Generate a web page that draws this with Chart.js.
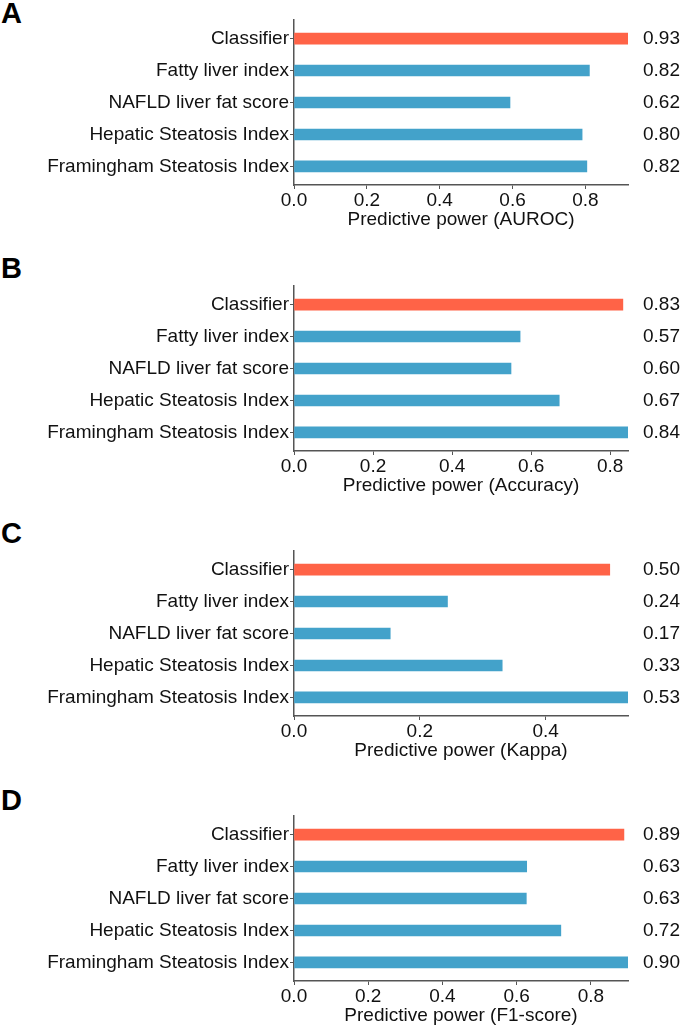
<!DOCTYPE html>
<html>
<head>
<meta charset="utf-8">
<script src="https://cdn.jsdelivr.net/npm/chart.js@4.4.1/dist/chart.umd.min.js"></script>
<style>
  body { margin: 0; width: 685px; height: 1027px; overflow: hidden; background: #fff; position: relative;
         font-family: "Liberation Sans", Arial, sans-serif; }
  .panel { position: absolute; left: 0; width: 685px; height: 232px; }
  .letter { position: absolute; left: 1px; font-weight: bold; font-size: 29px; line-height: 1; color: #000; }
</style>
</head>
<body>
<script>
// Shared categories (top to bottom)
const categories = ['Classifier', 'Fatty liver index', 'NAFLD liver fat score', 'Hepatic Steatosis Index', 'Framingham Steatosis Index'];
const panelLetters = ['A', 'B', 'C', 'D'];
const axisTitles = ['Predictive power (AUROC)', 'Predictive power (Accuracy)', 'Predictive power (Kappa)', 'Predictive power (F1-score)'];
const xTickValues = [0, 0.2, 0.4, 0.6, 0.8];

// Bar lengths
const aurocValues = [0.917, 0.811, 0.593, 0.791, 0.804];
const accuracyValues = [0.832, 0.572, 0.549, 0.671, 0.845];
const kappaValues = [0.502, 0.244, 0.153, 0.331, 0.531];
const f1Values = [0.889, 0.627, 0.626, 0.719, 0.900];

// Numbers printed at the right of each panel
const aurocLabels = ['0.93', '0.82', '0.62', '0.80', '0.82'];
const accuracyLabels = ['0.83', '0.57', '0.60', '0.67', '0.84'];
const kappaLabels = ['0.50', '0.24', '0.17', '0.33', '0.53'];
const f1Labels = ['0.89', '0.63', '0.63', '0.72', '0.90'];

const panelValues = [aurocValues, accuracyValues, kappaValues, f1Values];
const panelLabels = [aurocLabels, accuracyLabels, kappaLabels, f1Labels];
const panelTops = [0, 266, 531, 796];
const letterTops = [-1, 254, 519, 786];

const highlightColor = '#ff6347';
const barColor = '#43a2ca';
const axisColor = '#555555';

Chart.defaults.font.family = '"Liberation Sans", Arial, sans-serif';
Chart.defaults.font.size = 19;
Chart.defaults.color = '#111';

// Draws the printed number at the right end of each row
const valueLabelPlugin = {
  id: 'valueLabels',
  afterDraw(chart, args, opts) {
    const { ctx } = chart;
    const yScale = chart.scales.y;
    ctx.save();
    ctx.font = '19px "Liberation Sans", Arial, sans-serif';
    ctx.fillStyle = '#111';
    ctx.textAlign = 'left';
    ctx.textBaseline = 'middle';
    opts.labels.forEach((text, i) => {
      ctx.fillText(text, 643, yScale.getPixelForValue(i));
    });
    ctx.restore();
  },
};

panelValues.forEach((values, p) => {
  const letter = document.createElement('div');
  letter.className = 'letter';
  letter.style.top = letterTops[p] + 'px';
  letter.textContent = panelLetters[p];
  document.body.appendChild(letter);

  const wrap = document.createElement('div');
  wrap.className = 'panel';
  wrap.style.top = panelTops[p] + 'px';
  const canvas = document.createElement('canvas');
  wrap.appendChild(canvas);
  document.body.appendChild(wrap);

  const xMax = Math.max(...values);

  new Chart(canvas, {
    type: 'bar',
    data: {
      datasets: [{
        data: values.map((v, i) => ({ x: v, y: i })),
        backgroundColor: values.map((v, i) => (i === 0 ? highlightColor : barColor)),
        borderWidth: 0,
        barThickness: 11,
      }],
    },
    options: {
      indexAxis: 'y',
      responsive: true,
      maintainAspectRatio: false,
      animation: false,
      layout: { padding: { left: 0, right: 57, top: 20, bottom: 0 } },
      plugins: {
        legend: { display: false },
        tooltip: { enabled: false },
        valueLabels: { labels: panelLabels[p] },
      },
      scales: {
        x: {
          type: 'linear',
          min: 0,
          max: xMax,
          afterBuildTicks: (axis) => { axis.ticks = xTickValues.filter((t) => t <= xMax).map((t) => ({ value: t })); },
          afterFit: (axis) => { axis.height = 47; },
          ticks: { padding: 0, maxRotation: 0, callback: (v) => Number(v).toFixed(1) },
          grid: { display: true, drawOnChartArea: false, drawTicks: true, tickLength: 4, color: axisColor },
          border: { display: true, color: axisColor, width: 1.5 },
          title: { display: true, text: axisTitles[p], font: { size: 19 }, padding: { top: 0, bottom: 1 } },
        },
        y: {
          type: 'linear',
          reverse: true,
          offset: false,
          min: -0.58,
          max: 4.58,
          afterBuildTicks: (axis) => { axis.ticks = categories.map((c, i) => ({ value: i })); },
          afterFit: (axis) => { axis.width = 294; },
          ticks: { padding: 1, autoSkip: false, callback: (v) => categories[v] },
          grid: { display: true, offset: false, drawOnChartArea: false, drawTicks: true, tickLength: 4, color: axisColor },
          border: { display: true, color: axisColor, width: 1.5 },
        },
      },
    },
    plugins: [valueLabelPlugin],
  });
});
</script>
</body>
</html>
